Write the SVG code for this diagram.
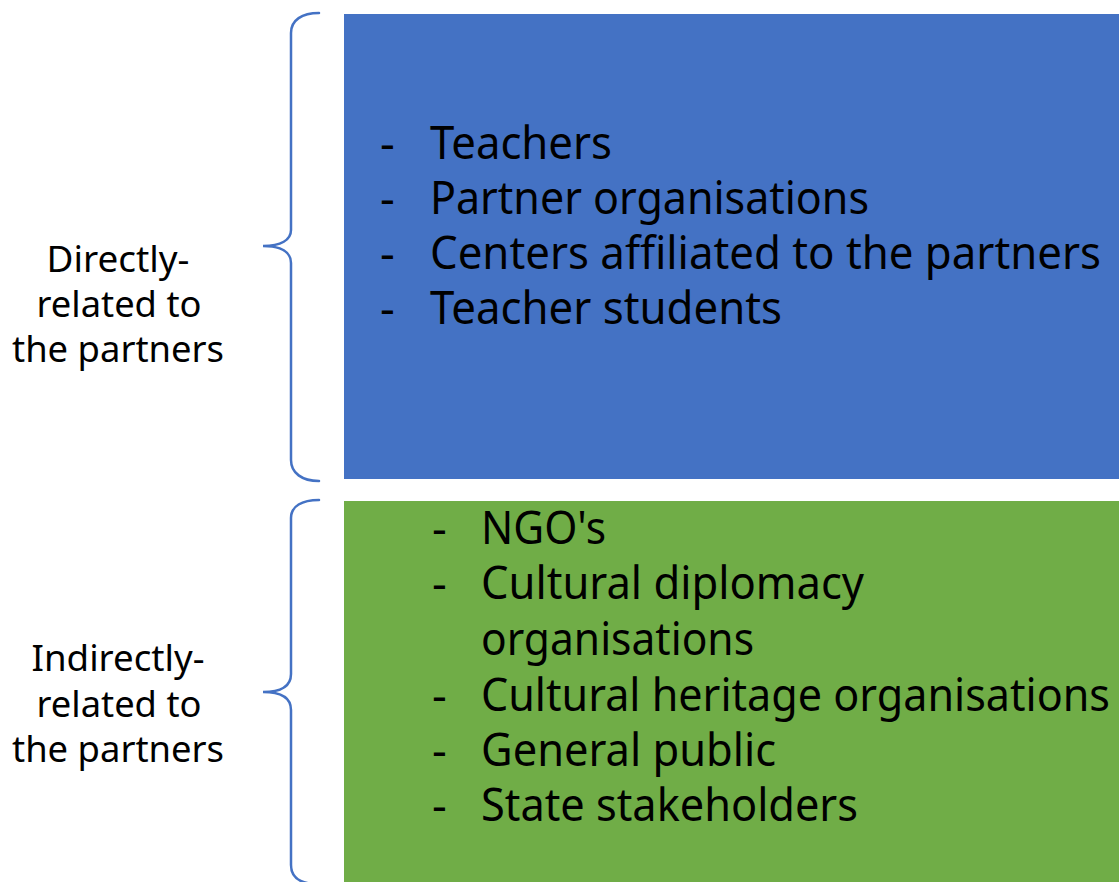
<svg xmlns="http://www.w3.org/2000/svg" width="1119" height="882" viewBox="0 0 1119 882">
<style>
.big{font-family:"Noto Sans","Open Sans",sans-serif;font-size:46px;fill:#000}
.lab{font-family:"Noto Sans","Open Sans",sans-serif;font-size:36px;fill:#000;text-anchor:middle}
.brace{fill:none;stroke:#4472C4;stroke-width:2.5;stroke-linecap:round}
</style>
<rect width="1119" height="882" fill="#fff"/>
<g id="direct-box">
<rect x="344" y="14" width="775" height="465" fill="#4472C4"/>
<text class="big" x="380" y="159">-</text><text class="big" x="430" y="159" textLength="182" lengthAdjust="spacingAndGlyphs">Teachers</text>
<text class="big" x="380" y="214">-</text><text class="big" x="430" y="214" textLength="439" lengthAdjust="spacingAndGlyphs">Partner organisations</text>
<text class="big" x="380" y="269">-</text><text class="big" x="430" y="269" textLength="671" lengthAdjust="spacingAndGlyphs">Centers affiliated to the partners</text>
<text class="big" x="380" y="324">-</text><text class="big" x="430" y="324" textLength="352" lengthAdjust="spacingAndGlyphs">Teacher students</text>
</g>
<g id="indirect-box">
<rect x="344" y="501" width="775" height="381" fill="#70AD47"/>
<text class="big" x="432" y="544">-</text><text class="big" x="481" y="544" textLength="125" lengthAdjust="spacingAndGlyphs">NGO's</text>
<text class="big" x="432" y="599">-</text><text class="big" x="481" y="599" textLength="383" lengthAdjust="spacingAndGlyphs">Cultural diplomacy</text>
<text class="big" x="481" y="655" textLength="273" lengthAdjust="spacingAndGlyphs">organisations</text>
<text class="big" x="432" y="711">-</text><text class="big" x="481" y="711" textLength="629" lengthAdjust="spacingAndGlyphs">Cultural heritage organisations</text>
<text class="big" x="432" y="766">-</text><text class="big" x="481" y="766" textLength="295" lengthAdjust="spacingAndGlyphs">General public</text>
<text class="big" x="432" y="821">-</text><text class="big" x="481" y="821" textLength="377" lengthAdjust="spacingAndGlyphs">State stakeholders</text>
</g>
<g id="direct-label">
<path class="brace" d="M319,13 C302,13 291,20 291,33 L291,230 C291,240 281,246 263,246 C281,246 291,252 291,263 L291,460 C291,473 302,481 319,481"/>
<text class="lab" x="118" y="272" textLength="143" lengthAdjust="spacingAndGlyphs">Directly-</text>
<text class="lab" x="119" y="317" textLength="165" lengthAdjust="spacingAndGlyphs">related to</text>
<text class="lab" x="118" y="362" textLength="212" lengthAdjust="spacingAndGlyphs">the partners</text>
</g>
<g id="indirect-label">
<path class="brace" d="M319,500 C302,500 291,506 291,518 L291,674 C291,686 281,692 263,692 C281,692 291,698 291,710 L291,865 C291,877 300,883 314,884"/>
<text class="lab" x="118" y="671" textLength="173" lengthAdjust="spacingAndGlyphs">Indirectly-</text>
<text class="lab" x="119" y="717" textLength="165" lengthAdjust="spacingAndGlyphs">related to</text>
<text class="lab" x="118" y="762" textLength="212" lengthAdjust="spacingAndGlyphs">the partners</text>
</g>
<g id="connectors"/>
</svg>
